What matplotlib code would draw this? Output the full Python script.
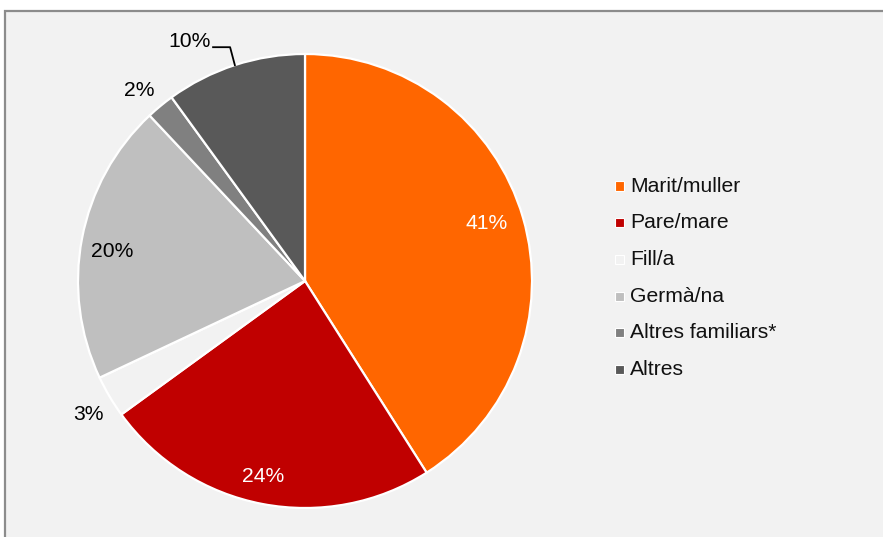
import numpy as np
import matplotlib
matplotlib.use("Agg")
import matplotlib.pyplot as plt
from matplotlib.patches import Rectangle

categories = ["Marit/muller", "Pare/mare", "Fill/a", "Germà/na", "Altres familiars*", "Altres"]
values = [41, 24, 3, 20, 2, 10]
labels = ["41%", "24%", "3%", "20%", "2%", "10%"]
colors = ["#FF6600", "#C00000", "#F2F2F2", "#BFBFBF", "#808080", "#595959"]

W, H = 883, 537
plt.rcParams['font.family'] = ['Liberation Sans', 'DejaVu Sans']
fig = plt.figure(figsize=(W / 100, H / 100), dpi=100)
fig.patch.set_facecolor("white")

# chart area frame
fig.patches.append(Rectangle((5 / W, -0.1), 1.2, (H - 11) / H + 0.1, transform=fig.transFigure,
                             facecolor="#F2F2F2", edgecolor="#8C8C8C", linewidth=1.6, zorder=-5))

cx, cy, r = 305, 281, 227
ax = fig.add_axes([(cx - r) / W, (H - cy - r) / H, 2 * r / W, 2 * r / H])
ax.set_zorder(2)

wedges, _ = ax.pie(values, colors=colors, startangle=90, counterclock=False, radius=1,
                   wedgeprops=dict(edgecolor="white", linewidth=1.6))
ax.set_xlim(-1, 1)
ax.set_ylim(-1, 1)
ax.set_aspect("equal")
ax.axis("off")

fs = 15.2
total = sum(values)
cum = 0
label_r = [0.84, 0.883, 1.12, 0.86, 1.11, None]
label_off = [1.2, -1.3, 1.0, 2.2, 1.4, 0.0]
label_col = ["white", "white", "black", "black", "black", "black"]
for i, v in enumerate(values):
    mid = np.deg2rad(90 - (cum + v / 2) / total * 360)
    cum += v
    if label_r[i] is not None:
        a = mid + np.deg2rad(label_off[i])
        ax.text(label_r[i] * np.cos(a), label_r[i] * np.sin(a), labels[i], ha="center", va="center",
                fontsize=fs, color=label_col[i], clip_on=False)
    else:
        x0, y0 = np.cos(mid), np.sin(mid)
        ex, ey = -0.33, 1.03
        ax.plot([x0, ex, -0.405], [y0, ey, ey], color="black", lw=1.3, clip_on=False)
        ax.text(-0.415, 1.057, labels[i], ha="right", va="center", fontsize=fs, color="black", clip_on=False)

# legend
lx, ly0, dy = 630, 186, 36.7
for i, c in enumerate(categories):
    y = ly0 + i * dy
    fig.patches.append(Rectangle(((lx - 15.5) / W, (H - y - 4.5) / H), 9 / W, 9 / H, transform=fig.transFigure,
                                 facecolor=colors[i], edgecolor="white", linewidth=0.8, zorder=3))
    fig.text(lx / W, (H - y) / H, c, ha="left", va="center", fontsize=fs, color="#111111")

fig.savefig("out.png", dpi=100)
